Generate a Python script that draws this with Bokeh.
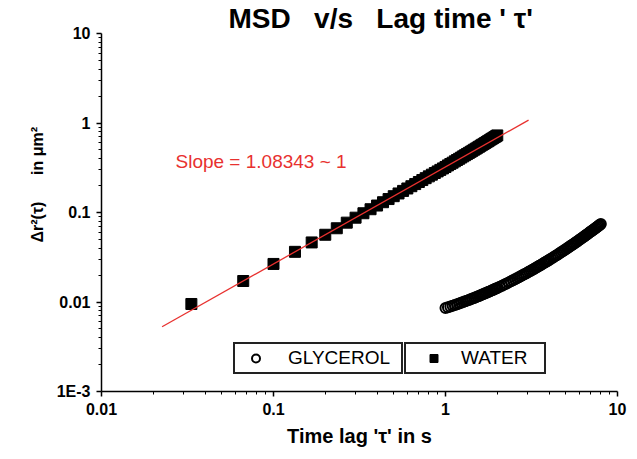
from bokeh.plotting import figure
from bokeh.models import FixedTicker, Label, Legend, LegendItem, Title
from bokeh.embed import file_html
from bokeh.resources import INLINE

# ---------------- data ----------------
water_t = [0.0333, 0.0667, 0.1, 0.1333, 0.1667, 0.2, 0.2333, 0.2667, 0.3, 0.3333,
           0.3667, 0.4, 0.4333, 0.4667, 0.5, 0.5333, 0.5667, 0.6, 0.6333, 0.6667,
           0.7, 0.7333, 0.7667, 0.8, 0.8333, 0.8667, 0.9, 0.9333, 0.9667, 1.0,
           1.0333, 1.0667, 1.1, 1.1333, 1.1667, 1.2, 1.2333, 1.2667, 1.3, 1.3333,
           1.3667, 1.4, 1.4333, 1.4667, 1.5, 1.5333, 1.5667, 1.6, 1.6333, 1.6667,
           1.7, 1.7333, 1.7667, 1.8, 1.8333, 1.8667, 1.9, 1.9333, 1.9667, 2.0]
water_msd = [0.0095, 0.01716, 0.02662, 0.03635, 0.0463, 0.0564, 0.06666, 0.07703, 0.08752, 0.09811,
             0.1088, 0.1196, 0.1303, 0.1413, 0.1522, 0.1632, 0.1743, 0.1855, 0.1967, 0.2078,
             0.2191, 0.2305, 0.2419, 0.2533, 0.2647, 0.2762, 0.2877, 0.2993, 0.3109, 0.3226,
             0.336, 0.348, 0.360, 0.373, 0.386, 0.398, 0.411, 0.424, 0.437, 0.450,
             0.463, 0.476, 0.489, 0.503, 0.516, 0.530, 0.543, 0.557, 0.571, 0.584,
             0.598, 0.612, 0.626, 0.640, 0.655, 0.669, 0.683, 0.698, 0.712, 0.727]

glycerol_t = [1.0, 1.033, 1.067, 1.1, 1.133, 1.167, 1.2, 1.233, 1.267, 1.3,
              1.333, 1.367, 1.4, 1.433, 1.467, 1.5, 1.533, 1.567, 1.6, 1.633,
              1.667, 1.7, 1.733, 1.767, 1.8, 1.833, 1.867, 1.9, 1.933, 1.967,
              2.0, 2.067, 2.133, 2.2, 2.267, 2.333, 2.4, 2.467, 2.533, 2.6,
              2.667, 2.733, 2.8, 2.867, 2.933, 3.0, 3.067, 3.133, 3.2, 3.267,
              3.333, 3.4, 3.467, 3.533, 3.6, 3.667, 3.733, 3.8, 3.867, 3.933,
              4.0, 4.1, 4.2, 4.3, 4.4, 4.5, 4.6, 4.7, 4.8, 4.9,
              5.0, 5.1, 5.2, 5.3, 5.4, 5.5, 5.6, 5.7, 5.8, 5.9,
              6.0, 6.1, 6.2, 6.3, 6.4, 6.5, 6.6, 6.7, 6.8, 6.9,
              7.0, 7.1, 7.2, 7.3, 7.4, 7.5, 7.6, 7.7, 7.8, 7.9, 8.0]
glycerol_msd = [0.008567, 0.008739, 0.008912, 0.009086, 0.009266, 0.009445, 0.009625, 0.009806, 0.00999, 0.010175,
                0.01036, 0.010546, 0.010735, 0.010926, 0.011117, 0.01131, 0.011504, 0.011699, 0.011896, 0.012094,
                0.012293, 0.012496, 0.012697, 0.012901, 0.013106, 0.013313, 0.013522, 0.013729, 0.013941, 0.014153,
                0.014366, 0.014795, 0.015229, 0.015671, 0.016117, 0.016569, 0.017025, 0.017488, 0.017956, 0.018429,
                0.018907, 0.019389, 0.019878, 0.02037, 0.020869, 0.021373, 0.021881, 0.022396, 0.022893, 0.023416,
                0.023945, 0.024478, 0.025016, 0.02556, 0.026109, 0.026665, 0.027223, 0.02779, 0.028362, 0.028939,
                0.02952, 0.030402, 0.031295, 0.032198, 0.033112, 0.034041, 0.034983, 0.035936, 0.036901, 0.037878,
                0.038867, 0.03987, 0.040883, 0.041911, 0.042951, 0.044002, 0.045067, 0.046143, 0.047232, 0.048329,
                0.049451, 0.050576, 0.051718, 0.052868, 0.054035, 0.055215, 0.056407, 0.057612, 0.05883, 0.060061,
                0.061303, 0.062559, 0.063827, 0.065108, 0.066401, 0.067708, 0.069033, 0.070366, 0.071711, 0.073077,
                0.074448]

fit_t = [0.0225, 3.04]
fit_msd = [0.00529, 1.076]

x_ticks = [0.01, 0.1, 1, 10]
x_tick_labels = ["0.01", "0.1", "1", "10"]
y_ticks = [0.001, 0.01, 0.1, 1, 10]
y_tick_labels = ["1E-3", "0.01", "0.1", "1", "10"]

NB = "\u00a0"
title_text = "MSD" + NB * 3 + "v/s" + NB * 3 + "Lag time '" + NB + "\u03c4'"
x_title = "Time lag '\u03c4' in s"
y_title = "\u0394r\u00b2(\u03c4)" + NB * 6 + "in \u03bcm\u00b2"
slope_text = "Slope = 1.08343 ~ 1"
legend_labels = ["GLYCEROL", "WATER"]

FONT = "Liberation Sans"

# ---------------- figure ----------------
p = figure(width=630, height=455, x_axis_type="log", y_axis_type="log",
           x_range=(0.01, 10), y_range=(0.001, 10),
           output_backend="svg", toolbar_location=None,
           min_border_left=101, min_border_right=13,
           min_border_top=32, min_border_bottom=64)
p.grid.visible = False
p.outline_line_color = None
p.background_fill_color = "white"
p.border_fill_color = "white"

p.title.text = title_text
p.title.text_font = FONT
p.title.text_font_style = "bold"
p.title.text_font_size = "28px"
p.title.text_color = "black"
p.title.align = "left"
p.title.offset = 127
p.title.standoff = 0

minor_x = [m * 10.0 ** e for e in range(-2, 1) for m in range(2, 10)]
minor_y = [m * 10.0 ** e for e in range(-3, 1) for m in range(2, 10)]
p.xaxis[0].ticker = FixedTicker(ticks=x_ticks, minor_ticks=minor_x)
p.yaxis[0].ticker = FixedTicker(ticks=y_ticks, minor_ticks=minor_y)
p.xaxis[0].major_label_overrides = {t: s for t, s in zip(x_ticks, x_tick_labels)}
p.yaxis[0].major_label_overrides = {t: s for t, s in zip(y_ticks, y_tick_labels)}

for ax in (p.xaxis[0], p.yaxis[0]):
    ax.axis_line_color = "black"
    ax.axis_line_width = 1.5
    ax.major_tick_line_color = "black"
    ax.major_tick_line_width = 1.5
    ax.minor_tick_line_color = "black"
    ax.minor_tick_line_width = 1
    ax.major_tick_out = 5
    ax.major_tick_in = 0
    ax.minor_tick_out = 3
    ax.minor_tick_in = 0
    ax.major_label_text_font = FONT
    ax.major_label_text_font_style = "bold"
    ax.major_label_text_font_size = "16px"
    ax.major_label_text_color = "black"
    ax.major_label_standoff = 6

p.xaxis[0].axis_label = x_title
p.xaxis[0].axis_label_text_font = FONT
p.xaxis[0].axis_label_text_font_style = "bold"
p.xaxis[0].axis_label_text_font_size = "20px"
p.xaxis[0].axis_label_text_color = "black"
p.xaxis[0].axis_label_standoff = 7

# y-axis title as a side title (allows shifting it along the axis)
p.add_layout(Title(text=y_title, align="left", offset=149, standoff=16,
                   text_font=FONT, text_font_style="bold", text_font_size="16px",
                   text_color="black"), "left")

# ---------------- glyphs ----------------
r_gly = p.scatter(glycerol_t, glycerol_msd, marker="circle", size=10,
                  fill_color=None, line_color="black", line_width=2)
r_wat = p.scatter(water_t, water_msd, marker="square", size=11,
                  fill_color="black", line_color="black", line_width=1)
p.line(fit_t, fit_msd, line_color="#e8312f", line_width=1.3)

p.add_layout(Label(x=0.02693, y=0.3748, text=slope_text, text_align="left",
                   text_baseline="middle", text_font=FONT, text_font_size="19px",
                   text_color="#e8312f"))

# ---------------- legends ----------------
common = dict(margin=0, padding=3, glyph_height=20, label_height=20,
              border_line_color="#222222", border_line_width=2, border_line_alpha=1.0,
              background_fill_color="white", background_fill_alpha=1.0,
              label_text_font=FONT, label_text_font_size="19px", label_text_color="black")
leg1 = Legend(items=[LegendItem(label=legend_labels[0], renderers=[r_gly])],
              location=(132, 17), glyph_width=35, label_standoff=15, label_width=110, **common)
leg2 = Legend(items=[LegendItem(label=legend_labels[1], renderers=[r_wat])],
              location=(303, 17), glyph_width=49, label_standoff=3, label_width=80, **common)
p.add_layout(leg1)
p.add_layout(leg2)

open("out.html", "w").write(file_html(p, INLINE))
